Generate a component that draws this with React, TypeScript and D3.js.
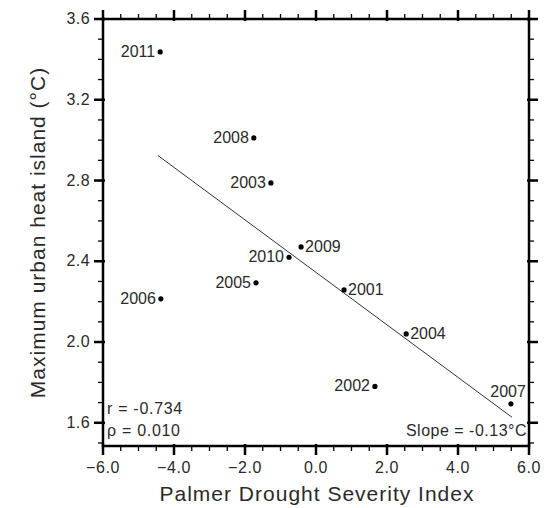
import React from "react";
import * as d3 from "d3";

const years = ["2011", "2008", "2003", "2009", "2010", "2005", "2001", "2006", "2004", "2002", "2007"];
const pdsi = [-4.39, -1.75, -1.27, -0.42, -0.76, -1.69, 0.79, -4.37, 2.54, 1.66, 5.49];
const uhi = [3.437, 3.011, 2.788, 2.471, 2.42, 2.293, 2.258, 2.214, 2.04, 1.78, 1.694];
const labelSide = ["left", "left", "left", "right", "left", "left", "right", "left", "right", "left", "above"];
const xTicks = [-6, -4, -2, 0, 2, 4, 6];
const yTicks = [1.6, 2.0, 2.4, 2.8, 3.2, 3.6];
const fitSlope = -0.13;
const fitIntercept = 2.345;
const fitRange = [-4.45, 5.52];
const statsText = ["r = -0.734", "\u03c1 = 0.010"];
const slopeText = "Slope = -0.13\u00b0C";

const W = 554, H = 508;
const L = 103, R = 529, T = 19, B = 446;

export default function App() {
  const x = d3.scaleLinear().domain([-6, 6]).range([L, R]);
  const y = d3.scaleLinear().domain([1.485, 3.6]).range([B, T]);
  const xMinor = d3.range(-6, 6.001, 0.5);
  const yMinor = d3.range(1.5, 3.601, 0.1).filter((v) => v >= 1.485);
  const font = "'Liberation Sans', Arial, sans-serif";
  const col = "#2a2a2a";
  const line = d3.line<number>().x((d) => x(d)).y((d) => y(fitIntercept + fitSlope * d));
  return (
    <svg width={W} height={H} style={{ position: "absolute", left: 0, top: 0, background: "#fff" }} fontFamily={font}>
      <rect x={0} y={0} width={W} height={H} fill="#fff" />
      {xMinor.map((v, i) => (
        <g key={"xm" + i} stroke="#000" strokeWidth={1.3}>
          <line x1={x(v)} x2={x(v)} y1={B} y2={B + 5} />
          <line x1={x(v)} x2={x(v)} y1={T} y2={T - 5} />
        </g>
      ))}
      {yMinor.map((v, i) => (
        <g key={"ym" + i} stroke="#000" strokeWidth={1.3}>
          <line x1={L} x2={L - 5} y1={y(v)} y2={y(v)} />
          <line x1={R} x2={R + 5} y1={y(v)} y2={y(v)} />
        </g>
      ))}
      {xTicks.map((v) => (
        <g key={"xt" + v}>
          <line x1={x(v)} x2={x(v)} y1={B - 2} y2={B + 9} stroke="#000" strokeWidth={2.5} />
          <line x1={x(v)} x2={x(v)} y1={T + 2} y2={T - 9} stroke="#000" strokeWidth={2.5} />
          <text x={x(v)} y={B + 27} textAnchor="middle" fontSize={16} letterSpacing={0.6} fill={col}>
            {d3.format(".1f")(v)}
          </text>
        </g>
      ))}
      {yTicks.map((v) => (
        <g key={"yt" + v}>
          <line x1={L + 2} x2={L - 9} y1={y(v)} y2={y(v)} stroke="#000" strokeWidth={2.5} />
          <line x1={R - 2} x2={R + 9} y1={y(v)} y2={y(v)} stroke="#000" strokeWidth={2.5} />
          <text x={L - 13} y={y(v) + 5} textAnchor="end" fontSize={16} letterSpacing={0.4} fill={col}>
            {d3.format(".1f")(v)}
          </text>
        </g>
      ))}
      <rect x={L} y={T} width={R - L} height={B - T} fill="none" stroke="#000" strokeWidth={2.5} />
      <path d={line(fitRange) || ""} stroke="#333" strokeWidth={1} fill="none" />
      {years.map((yr, i) => {
        const cx = x(pdsi[i]);
        const cy = y(uhi[i]);
        const side = labelSide[i];
        let tx = cx - 5, ty = cy + 5, anchor = "end";
        if (side === "right") { tx = cx + 4; anchor = "start"; }
        if (side === "above") { tx = cx + 15; ty = cy - 7; anchor = "end"; }
        return (
          <g key={yr}>
            <circle cx={cx} cy={cy} r={2.6} fill="#000" />
            <text x={tx} y={ty} textAnchor={anchor} fontSize={16} fill={col}>{yr}</text>
          </g>
        );
      })}
      <text x={L + 4} y={414} fontSize={16} letterSpacing={0.7} fill={col}>{statsText[0]}</text>
      <text x={L + 4} y={436} fontSize={16} letterSpacing={0.7} fill={col}>{statsText[1]}</text>
      <text x={R - 2} y={436} textAnchor="end" fontSize={16} letterSpacing={0.5} fill={col}>{slopeText}</text>
      <text x={(L + R) / 2 + 1} y={501} textAnchor="middle" fontSize={21} letterSpacing={1} fill={col}>Palmer Drought Severity Index</text>
      <text transform={`translate(45,${(T + B) / 2}) rotate(-90)`} textAnchor="middle" fontSize={21} letterSpacing={1} fill={col}>
        Maximum urban heat island (°C)
      </text>
    </svg>
  );
}
